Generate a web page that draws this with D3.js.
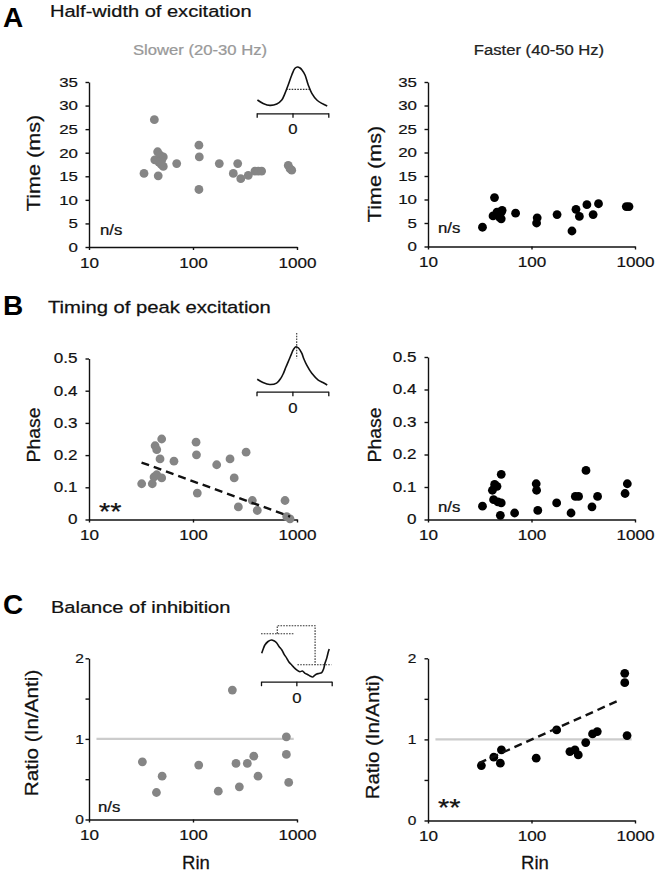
<!DOCTYPE html>
<html><head><meta charset="utf-8">
<script src="https://cdn.jsdelivr.net/npm/d3@7"></script>
<style>html,body{margin:0;padding:0;background:#fff;} svg{display:block;}</style>
</head><body><svg id="chart" width="656" height="878"></svg>
<script>
// ---------------- DATA ----------------
const xTicks = [10, 100, 1000];
const yTicksA = [0, 5, 10, 15, 20, 25, 30, 35];
const yTicksB = [0, 0.1, 0.2, 0.3, 0.4, 0.5];
const yTicksC = [0, 0.5, 1, 1.5, 2];
const yLabelsC = [0, 1, 2];

// A: half-width of excitation (ms)
const slowA_rin = [33.8, 42.5, 42.9, 45.7, 46.3, 48.2, 50, 51.8, 51.8, 47, 49.5, 69.7, 114, 115, 114, 179, 244, 269, 288, 340, 394, 424, 457, 824, 857, 890];
const slowA_val = [15.6, 27.0, 18.5, 20.2, 15.1, 19.5, 18.4, 19.1, 17.1, 18.0, 17.5, 17.7, 21.6, 19.1, 12.2, 17.7, 15.6, 17.7, 14.5, 15.2, 16.1, 16.1, 16.1, 17.3, 16.6, 16.3];
const fastA_rin = [33.6, 42.5, 43.9, 46.4, 49.2, 51, 52, 51, 70.2, 113.5, 112, 176.6, 246, 269, 290, 343, 394, 444, 824, 875];
const fastA_val = [4.1, 6.5, 10.4, 7.3, 6.2, 7.3, 7.7, 5.9, 7.1, 6.1, 5.0, 6.8, 3.3, 7.9, 6.4, 8.9, 6.8, 9.1, 8.5, 8.5];

// B: timing of peak excitation (phase)
const slowB_rin = [32.1, 40.6, 42.2, 43.2, 44.8, 44.8, 48.2, 50, 50, 65.6, 107, 108, 110, 169, 227, 249, 273, 324, 372, 415, 767, 796, 857];
const slowB_val = [0.111, 0.111, 0.132, 0.229, 0.217, 0.139, 0.188, 0.250, 0.129, 0.181, 0.240, 0.201, 0.082, 0.170, 0.188, 0.129, 0.039, 0.209, 0.059, 0.028, 0.059, 0.009, 0.002];
const fastB_rin = [33.6, 41.9, 44, 46.4, 43, 47.3, 51, 51, 50, 68.7, 111, 112, 115, 175, 241, 265, 285, 336, 384, 435, 802, 843];
const fastB_val = [0.041, 0.090, 0.108, 0.102, 0.061, 0.054, 0.139, 0.051, 0.013, 0.020, 0.110, 0.090, 0.028, 0.051, 0.020, 0.071, 0.071, 0.151, 0.039, 0.071, 0.080, 0.110];
const trendSlowB_rin = [32, 860];
const trendSlowB_val = [0.177, 0.009];

// C: balance of inhibition (ratio In/Anti)
const slowC_rin = [32.6, 44.5, 50.5, 113.5, 175, 239, 259, 279, 333, 384, 422, 790, 790, 832];
const slowC_val = [0.716, 0.335, 0.538, 0.675, 0.352, 1.606, 0.696, 0.405, 0.696, 0.786, 0.538, 1.026, 0.807, 0.460];
const fastC_rin = [32.8, 43.2, 50, 51.2, 111, 175, 235, 263, 283, 334, 389, 432, 796, 796, 838];
const fastC_val = [0.677, 0.781, 0.707, 0.871, 0.768, 1.117, 0.850, 0.871, 0.809, 0.961, 1.068, 1.096, 1.815, 1.700, 1.047];
const trendFastC_rin = [31, 713];
const trendFastC_val = [0.707, 1.486];
const refC_rin = [11.8, 930];
const refC_val = [1, 1];

// Insets (time from -1..1, normalized amplitude)
const insetA_t = [-0.98, -0.82, -0.63, -0.44, -0.30, -0.21, -0.12, -0.02, 0.07, 0.14, 0.21, 0.265, 0.35, 0.44, 0.54, 0.68, 0.82, 0.97];
const insetA_v = [0.175, 0.09, 0.04, 0.075, 0.175, 0.34, 0.55, 0.80, 0.97, 1.0, 0.975, 0.925, 0.80, 0.55, 0.34, 0.175, 0.09, 0.025];
const halfA_t = [-0.18, 0.49];
const halfA_v = [0.44, 0.44];

const insetB_t = [-0.98, -0.82, -0.63, -0.44, -0.32, -0.25, -0.18, -0.115, -0.04, 0.03, 0.10, 0.17, 0.26, 0.32, 0.40, 0.54, 0.72, 0.85, 0.97];
const insetB_v = [0.15, 0.065, 0.013, 0.05, 0.18, 0.305, 0.47, 0.61, 0.78, 0.93, 1.0, 0.966, 0.83, 0.68, 0.52, 0.305, 0.13, 0.065, 0.0];
const peakB_t = [0.12, 0.12];
const peakB_v = [1.36, 0.70];

const insetC_t = [-0.98, -0.93, -0.89, -0.80, -0.70, -0.635, -0.56, -0.49, -0.41, -0.35, -0.27, -0.21, -0.13, -0.066, 0.01, 0.10, 0.17, 0.245, 0.315, 0.386, 0.46, 0.51, 0.576, 0.64, 0.717, 0.77, 0.81, 0.86, 0.905, 0.93];
const insetC_v = [0.64, 0.776, 0.865, 0.96, 1.0, 0.98, 0.927, 0.824, 0.73, 0.62, 0.505, 0.405, 0.324, 0.257, 0.19, 0.143, 0.162, 0.10, 0.068, 0.027, 0.0, 0.04, 0.081, 0.095, 0.116, 0.216, 0.37, 0.51, 0.684, 0.757];
const windowC1_t = [-1, -0.066];
const windowC1_v = [1.17, 1.17];
const windowC2_t = [-0.54, -0.54, 0.53, 0.53];
const windowC2_v = [1.17, 1.386, 1.386, 0.33];
const windowC3_t = [0.03, 0.99];
const windowC3_v = [0.33, 0.33];

// ---------------- DRAWING ----------------
const svg = d3.select("#chart");
const FONT = "'Liberation Sans', Arial, Helvetica, sans-serif";
const GREY = "#858585";

function stretch(sel, s) {
  sel.each(function () {
    const t = d3.select(this);
    const x = +t.attr("x") || 0, y = +t.attr("y") || 0;
    t.attr("x", null).attr("y", null)
      .attr("transform", `translate(${x},${y}) scale(${s},1)`);
  });
}
function label(txt, x, y, o) {
  const t = svg.append("text").attr("x", x).attr("y", y).text(txt)
    .attr("font-family", FONT).attr("font-size", o.size)
    .attr("fill", o.fill || "#111").attr("font-weight", o.weight || "normal")
    .attr("text-anchor", o.anchor || "start")
    .attr("stroke", o.weight ? "none" : (o.fill || "#111")).attr("stroke-width", 0.25);
  stretch(t, o.s || 1);
  return t;
}
function vlabel(txt, x, y, o) {
  svg.append("text").text(txt)
    .attr("font-family", FONT).attr("font-size", o.size).attr("fill", "#111")
    .attr("stroke", "#111").attr("stroke-width", 0.25)
    .attr("text-anchor", "middle")
    .attr("transform", `translate(${x},${y}) rotate(-90) scale(${o.s},1)`);
}

function panel(o) {
  const x = d3.scaleLog().domain([10, 1000]).range([o.x0, o.x1]);
  const y = d3.scaleLinear().domain([0, o.ymax]).range([o.y0, o.y1]);
  const g = svg.append("g");
  const line = d3.line().x(d => x(d[0])).y(d => y(d[1]));

  if (o.ref) {
    g.append("path").datum(d3.zip(o.ref[0], o.ref[1])).attr("d", line)
      .attr("stroke", "#cccccc").attr("stroke-width", 2.2).attr("fill", "none");
  }
  const ya = g.append("g").attr("transform", `translate(${o.x0},0)`)
    .call(d3.axisLeft(y).tickValues(o.yticks).tickSize(3.5).tickSizeOuter(0)
      .tickPadding(o.ypad).tickFormat(o.yfmt));
  const xa = g.append("g").attr("transform", `translate(0,${o.y0})`)
    .call(d3.axisBottom(x).tickValues(xTicks).tickSize(3).tickSizeOuter(0)
      .tickPadding(7.5).tickFormat(d3.format("d")));
  [ya, xa].forEach(a => {
    a.selectAll("path,line").attr("stroke", "#111").attr("stroke-width", 1.4);
    a.selectAll("text").attr("font-family", FONT).attr("fill", "#111")
      .attr("stroke", "#111").attr("stroke-width", 0.2);
  });
  ya.selectAll("text").attr("font-size", o.yfs);
  stretch(ya.selectAll("text"), o.ys);
  xa.selectAll("text").attr("font-size", 14.5);
  stretch(xa.selectAll("text"), 1.18);

  g.append("g").selectAll("circle").data(d3.zip(o.rin, o.val)).join("circle")
    .attr("cx", d => x(d[0])).attr("cy", d => y(d[1])).attr("r", 4.4)
    .attr("fill", o.color);

  if (o.trend) {
    g.append("path").datum(d3.zip(o.trend[0], o.trend[1])).attr("d", line)
      .attr("stroke", "#111").attr("stroke-width", 2.4).attr("fill", "none")
      .attr("stroke-dasharray", "8,5");
  }
}

function inset(o) {
  const x = d3.scaleLinear().domain([-1, 1]).range([o.x0, o.x1]);
  const y = d3.scaleLinear().domain([0, 1]).range([o.yb, o.yt]);
  const g = svg.append("g");
  const line = d3.line().x(d => x(d[0])).y(d => y(d[1]));
  o.dashes.forEach(dd => {
    g.append("path").datum(d3.zip(dd[0], dd[1])).attr("d", line)
      .attr("stroke", "#333").attr("stroke-width", 1.1).attr("fill", "none")
      .attr("stroke-dasharray", "1.6,1.2");
  });
  g.append("path").datum(d3.zip(o.t, o.v))
    .attr("d", line.curve(d3.curveCatmullRom))
    .attr("stroke", "#111").attr("stroke-width", 1.6).attr("fill", "none");
  const a = g.append("g").attr("transform", `translate(0,${o.axisY})`)
    .call(d3.axisBottom(x).tickValues([-1, 0, 1]).tickSize(4.5).tickSizeOuter(0)
      .tickPadding(6).tickFormat(d => d === 0 ? "0" : ""));
  a.selectAll("path,line").attr("stroke", "#111").attr("stroke-width", 1.3);
  a.selectAll("text").attr("font-family", FONT).attr("font-size", 14.5).attr("fill", "#111")
    .attr("stroke", "#111").attr("stroke-width", 0.2);
  stretch(a.selectAll("text"), 1.15);
}

const L = { x0: 89, x1: 297 }, R = { x0: 428, x1: 635 };
const fmt1 = d3.format(".1f");
const fmtB = d => d === 0 ? "0" : fmt1(d);
const fmtC = d => yLabelsC.includes(d) ? String(d) : "";

// Panel letters & titles
label("A", 3, 27, { size: 28, weight: "bold", fill: "#000" });
label("B", 3, 315, { size: 28, weight: "bold", fill: "#000" });
label("C", 3, 614, { size: 28, weight: "bold", fill: "#000" });
label("Half-width of excitation", 50, 17, { size: 17, s: 1.18 });
label("Timing of peak excitation", 48, 313, { size: 17, s: 1.19 });
label("Balance of inhibition", 51, 613, { size: 17, s: 1.18 });
label("Slower (20-30 Hz)", 200, 55, { size: 15, s: 1.11, anchor: "middle", fill: "#999" });
label("Faster (40-50 Hz)", 539, 55, { size: 15, s: 1.11, anchor: "middle", fill: "#222" });

// Row A
panel({ ...L, y0: 247, y1: 82, ymax: 35, yticks: yTicksA, yfmt: d3.format("d"), ypad: 7.5, yfs: 13.5, ys: 1.25, rin: slowA_rin, val: slowA_val, color: GREY });
panel({ ...R, y0: 246.5, y1: 82, ymax: 35, yticks: yTicksA, yfmt: d3.format("d"), ypad: 7.5, yfs: 13.5, ys: 1.25, rin: fastA_rin, val: fastA_val, color: "#000" });
// Row B
panel({ ...L, y0: 519.5, y1: 358.5, ymax: 0.5, yticks: yTicksB, yfmt: fmtB, ypad: 8, yfs: 14, ys: 1.22, rin: slowB_rin, val: slowB_val, color: GREY, trend: [trendSlowB_rin, trendSlowB_val] });
panel({ ...R, y0: 519.5, y1: 357, ymax: 0.5, yticks: yTicksB, yfmt: fmtB, ypad: 8, yfs: 14, ys: 1.22, rin: fastB_rin, val: fastB_val, color: "#000" });
// Row C
panel({ ...L, y0: 819.5, y1: 658.3, ymax: 2, yticks: yTicksC, yfmt: fmtC, ypad: 1.5, yfs: 13.5, ys: 1.15, rin: slowC_rin, val: slowC_val, color: GREY, ref: [refC_rin, refC_val] });
panel({ ...R, y0: 820.5, y1: 658.3, ymax: 2, yticks: yTicksC, yfmt: fmtC, ypad: 8, yfs: 13.5, ys: 1.15, rin: fastC_rin, val: fastC_val, color: "#000", ref: [refC_rin, refC_val], trend: [trendFastC_rin, trendFastC_val] });

// Axis titles
vlabel("Time (ms)", 40, 163, { size: 18.5, s: 1.17 });
vlabel("Time (ms)", 381, 174, { size: 18.5, s: 1.17 });
vlabel("Phase", 40, 435, { size: 18.5, s: 1.05 });
vlabel("Phase", 381, 435, { size: 18.5, s: 1.05 });
vlabel("Ratio (In/Anti)", 38, 733, { size: 18.5, s: 1.12 });
vlabel("Ratio (In/Anti)", 379, 737, { size: 18.5, s: 1.1 });
label("Rin", 196, 869, { size: 18, s: 1.03, anchor: "middle" });
label("Rin", 535, 869, { size: 18, s: 1.03, anchor: "middle" });

// Significance annotations
label("n/s", 100, 235, { size: 15, s: 1.12 });
label("n/s", 438, 233, { size: 15, s: 1.12 });
label("**", 99, 520, { size: 24, s: 1.2 });
label("n/s", 438, 512, { size: 15, s: 1.12 });
label("n/s", 98, 812, { size: 15, s: 1.12 });
label("**", 438, 816, { size: 24, s: 1.2 });

// Insets
inset({ x0: 256.7, x1: 328.3, yb: 107, yt: 67, axisY: 113.3, t: insetA_t, v: insetA_v, dashes: [[halfA_t, halfA_v]] });
inset({ x0: 256.5, x1: 328.3, yb: 385, yt: 346.7, axisY: 391.7, t: insetB_t, v: insetB_v, dashes: [[peakB_t, peakB_v]] });
inset({ x0: 261, x1: 331.7, yb: 677, yt: 640, axisY: 681.7, t: insetC_t, v: insetC_v, dashes: [[windowC1_t, windowC1_v], [windowC2_t, windowC2_v], [windowC3_t, windowC3_v]] });
</script>
</body></html>
